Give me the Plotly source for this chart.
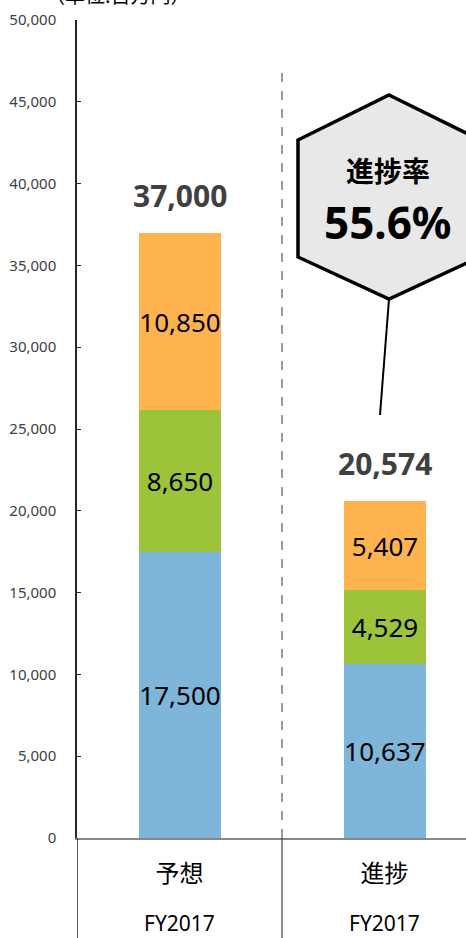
import plotly.graph_objects as go

# FY2017 operating figures (million yen)
categories = ["予想", "進捗"]
period_labels = ["FY2017", "FY2017"]
segment_a = [17500, 10637]   # blue
segment_b = [8650, 4529]     # green
segment_c = [10850, 5407]    # orange
totals = [37000, 20574]      # reported totals (segments are rounded)
y_ticks = [0, 5000, 10000, 15000, 20000, 25000, 30000, 35000, 40000, 45000, 50000]

colors = ["#7DB6D9", "#9DC33B", "#FFB34F"]
progress_rate = totals[1] / totals[0] * 100

W, H = 466, 938
ML, MT, MB = 77, 20, 100
PW, PH = W - ML, H - MT - MB
CAT_PX = 205  # pixel width of one category slot


def px_x(px):
    return (px - ML) / PW


def px_y(py):
    return (H - MB - py) / PH


x_idx = list(range(len(categories)))
fig = go.Figure()
for vals, col in zip([segment_a, segment_b, segment_c], colors):
    fig.add_trace(go.Bar(
        x=x_idx, y=vals, width=0.4, marker=dict(color=col, line=dict(width=0)),
        text=[f"{v:,}" for v in vals], textposition="inside", textangle=0,
        insidetextanchor="middle", constraintext="none",
        textfont=dict(size=26, color="#000000", family="Noto Sans"),
        hoverinfo="skip", showlegend=False,
    ))

# totals above bars
for i, t in enumerate(totals):
    fig.add_annotation(x=i, y=t, xref="x", yref="y", text=f"<b>{t:,}</b>",
                       showarrow=False, xanchor="center", yanchor="bottom", yshift=15,
                       font=dict(size=30, color="#404040", family="Noto Sans"))

# period labels under category names
for i, p in enumerate(period_labels):
    fig.add_annotation(x=i, y=px_y(923), xref="x", yref="paper", text=p,
                       showarrow=False, xanchor="center", yanchor="middle",
                       font=dict(size=21, color="#000000", family="Noto Sans"))

# unit label
fig.add_annotation(x=px_x(118), y=px_y(-5), xref="paper", yref="paper",
                   text="（単位:百万円）", showarrow=False,
                   xanchor="center", yanchor="middle",
                   font=dict(size=20, color="#000000", family="Noto Sans CJK JP"))

# separator lines
fig.add_shape(type="line", xref="x", yref="paper", x0=0.5, x1=0.5,
              y0=0, y1=px_y(68), line=dict(color="#9A9A9A", width=2, dash="dash"))
fig.add_shape(type="line", xref="x", yref="paper", x0=0.5, x1=0.5,
              y0=0, y1=px_y(H), line=dict(color="#404040", width=1.2))
fig.add_shape(type="line", xref="x", yref="paper", x0=-0.5, x1=-0.5,
              y0=0, y1=px_y(H), line=dict(color="#262626", width=1.5))

# progress-rate callout
hex_pts = [(389, 95), (480, 140), (480, 257), (389, 299), (298, 257), (298, 140)]
path = "M " + " L ".join(f"{px_x(a):.4f},{px_y(b):.4f}" for a, b in hex_pts) + " Z"
fig.add_shape(type="line", xref="paper", yref="paper",
              x0=px_x(389), y0=px_y(299), x1=px_x(380), y1=px_y(415),
              line=dict(color="#000000", width=2))
fig.add_shape(type="path", xref="paper", yref="paper", path=path,
              fillcolor="#E8E8E8", line=dict(color="#000000", width=3.5))
fig.add_annotation(x=px_x(388), y=px_y(170), xref="paper", yref="paper",
                   text="<b>進捗率</b>", showarrow=False,
                   xanchor="center", yanchor="middle",
                   font=dict(size=28, color="#000000", family="Noto Sans CJK JP"))
fig.add_annotation(x=px_x(388), y=px_y(222), xref="paper", yref="paper",
                   text=f"<b>{progress_rate:.1f}%</b>", showarrow=False,
                   xanchor="center", yanchor="middle",
                   font=dict(size=44, color="#000000", family="Noto Sans"))

fig.update_layout(
    width=W, height=H, barmode="stack", bargap=0,
    margin=dict(l=ML, r=0, t=MT, b=MB, pad=0),
    paper_bgcolor="white", plot_bgcolor="white",
    xaxis=dict(range=[-0.5, -0.5 + PW / CAT_PX], tickvals=x_idx, ticktext=categories,
               showline=True, linecolor="#888888", linewidth=2, ticks="",
               showgrid=False, zeroline=False, ticklabelstandoff=13,
               tickfont=dict(size=24, color="#000000", family="Noto Sans CJK JP")),
    yaxis=dict(range=[0, 50000], tickvals=y_ticks,
               ticktext=[f"{v:,}" for v in y_ticks],
               showline=True, linecolor="#262626", linewidth=1.5,
               ticks="inside", ticklen=4, tickcolor="#262626",
               showgrid=False, zeroline=False, ticklabelstandoff=16,
               tickfont=dict(size=15, color="#404040", family="Noto Sans")),
)

fig.write_html("out.html")
